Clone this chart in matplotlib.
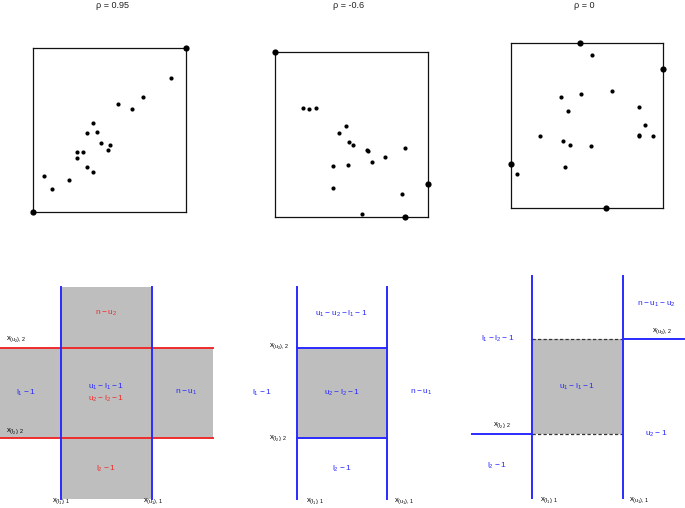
import numpy as np
import matplotlib.pyplot as plt

plt.rcParams['font.family'] = ['Liberation Sans', 'DejaVu Sans']
plt.rcParams['mathtext.default'] = 'regular'

# ---- top row: scatter samples, drawn in the unit box
titles = ['ρ = 0.95', 'ρ = -0.6', 'ρ = 0']

x1 = [0.076, 0.128, 0.235, 0.288, 0.327, 0.292, 0.355, 0.396, 0.418, 0.446,
      0.507, 0.490, 0.355, 0.394, 0.558, 0.647, 0.719, 0.904]
y1 = [0.223, 0.144, 0.198, 0.365, 0.365, 0.332, 0.484, 0.544, 0.487, 0.422,
      0.410, 0.381, 0.276, 0.245, 0.659, 0.629, 0.700, 0.816]
bx1 = [0.0, 1.0]
by1 = [0.0, 1.0]

x2 = [0.183, 0.222, 0.270, 0.464, 0.418, 0.486, 0.512, 0.606, 0.612, 0.723,
      0.854, 0.634, 0.481, 0.381, 0.381, 0.832, 0.573]
y2 = [0.664, 0.654, 0.660, 0.555, 0.510, 0.457, 0.435, 0.409, 0.401, 0.362,
      0.421, 0.336, 0.318, 0.310, 0.174, 0.142, 0.018]
bx2 = [0.0, 1.0, 0.854]
by2 = [1.0, 0.200, 0.0]

x3 = [0.533, 0.666, 0.463, 0.332, 0.376, 0.843, 0.878, 0.838, 0.838, 0.930,
      0.194, 0.345, 0.391, 0.524, 0.356, 0.044]
y3 = [0.931, 0.713, 0.694, 0.676, 0.589, 0.615, 0.502, 0.445, 0.435, 0.439,
      0.437, 0.409, 0.383, 0.374, 0.247, 0.206]
bx3 = [0.456, 1.0, 0.0, 0.627]
by3 = [1.0, 0.846, 0.267, 0.0]

samples = [(x1, y1, bx1, by1), (x2, y2, bx2, by2), (x3, y3, bx3, by3)]

# ---- bottom row: region diagrams (figure pixel units, y downwards)
# vertical cuts x_(l1),1 / x_(u1),1 and horizontal cuts x_(u2),2 / x_(l2),2
a_xcut = [60.7, 152.0]
a_ycut = [348.0, 438.3]
a_xspan = [0.0, 212.7]
a_yspan = [287.3, 499.3]
a_labels = ['$n - u_2$', '$l_1 - 1$', '$u_1 - l_1 - 1$', '$u_2 - l_2 - 1$',
            '$n - u_1$', '$l_2 - 1$']

b_xcut = [296.7, 387.3]
b_ycut = [348.0, 438.3]
b_yspan = [287.3, 499.3]
b_labels = ['$u_1 - u_2 - l_1 - 1$', '$l_1 - 1$', '$u_2 - l_2 - 1$',
            '$n - u_1$', '$l_2 - 1$']

c_xcut = [532.3, 623.0]
c_ycut = [339.3, 434.3]
c_yspan = [276.0, 498.3]
c_hspan_u2 = [623.0, 684.0]
c_hspan_l2 = [471.7, 532.3]
c_labels = ['$n - u_1 - u_2$', '$l_1 - l_2 - 1$', '$u_1 - l_1 - 1$',
            '$u_2 - 1$', '$l_2 - 1$']

xl1 = '$x_{(l_1),1}$'
xu1 = '$x_{(u_1),1}$'
xl2 = '$x_{(l_2),2}$'
xu2 = '$x_{(u_2),2}$'

W, H = 685, 508
blue = '#2a2aff'
red = '#f02c2c'
gray = '#bebebe'

fig = plt.figure(figsize=(W / 100, H / 100), dpi=100)

# diagram layer over the whole figure
ax = fig.add_axes([0, 0, 1, 1])
ax.set_xlim(0, W)
ax.set_ylim(H, 0)
ax.axis('off')

fs = 6
# panel a
ax.fill_between(a_xcut, a_yspan[0], a_yspan[1], color=gray, lw=0)
ax.fill_between(a_xspan, a_ycut[0], a_ycut[1], color=gray, lw=0)
for y in a_ycut:
    ax.plot(a_xspan, [y, y], color=red, lw=1.4)
for x in a_xcut:
    ax.plot([x, x], a_yspan, color=blue, lw=1.4)
ax.text(106, 313.3, a_labels[0], color=red, fontsize=fs, ha='center', va='center')
ax.text(26, 392.7, a_labels[1], color=blue, fontsize=fs, ha='center', va='center')
ax.text(106, 387.3, a_labels[2], color=blue, fontsize=fs, ha='center', va='center')
ax.text(106, 399.0, a_labels[3], color=red, fontsize=fs, ha='center', va='center')
ax.text(186.7, 392.7, a_labels[4], color=blue, fontsize=fs, ha='center', va='center')
ax.text(106, 469.3, a_labels[5], color=red, fontsize=fs, ha='center', va='center')
ax.text(6, 339, xu2, fontsize=5.5, ha='left', va='center')
ax.text(6.5, 431.3, xl2, fontsize=5.5, ha='left', va='center')
ax.text(61, 501, xl1, fontsize=5.5, ha='center', va='center')
ax.text(153, 501, xu1, fontsize=5.5, ha='center', va='center')

# panel b
ax.fill_between(b_xcut, b_ycut[0], b_ycut[1], color=gray, lw=0)
for y in b_ycut:
    ax.plot(b_xcut, [y, y], color=blue, lw=1.4)
for x in b_xcut:
    ax.plot([x, x], b_yspan, color=blue, lw=1.4)
ax.text(341.7, 314, b_labels[0], color=blue, fontsize=fs, ha='center', va='center')
ax.text(261.7, 392.7, b_labels[1], color=blue, fontsize=fs, ha='center', va='center')
ax.text(341.7, 392.7, b_labels[2], color=blue, fontsize=fs, ha='center', va='center')
ax.text(421.7, 392.7, b_labels[3], color=blue, fontsize=fs, ha='center', va='center')
ax.text(341.7, 469.3, b_labels[4], color=blue, fontsize=fs, ha='center', va='center')
ax.text(289, 346, xu2, fontsize=5.5, ha='right', va='center')
ax.text(287, 438.3, xl2, fontsize=5.5, ha='right', va='center')
ax.text(315, 501, xl1, fontsize=5.5, ha='center', va='center')
ax.text(404, 501, xu1, fontsize=5.5, ha='center', va='center')

# panel c
ax.fill_between(c_xcut, c_ycut[0], c_ycut[1], color=gray, lw=0)
for y in c_ycut:
    ax.plot(c_xcut, [y, y], color='#333333', lw=0.9, ls=(0, (2.6, 1.8)))
ax.plot(c_hspan_u2, [c_ycut[0]] * 2, color=blue, lw=1.4)
ax.plot(c_hspan_l2, [c_ycut[1]] * 2, color=blue, lw=1.4)
for x in c_xcut:
    ax.plot([x, x], c_yspan, color=blue, lw=1.4)
ax.text(656.7, 304.3, c_labels[0], color=blue, fontsize=fs, ha='center', va='center')
ax.text(497.3, 339.3, c_labels[1], color=blue, fontsize=fs, ha='center', va='center')
ax.text(577.3, 386.7, c_labels[2], color=blue, fontsize=fs, ha='center', va='center')
ax.text(656, 434.3, c_labels[3], color=blue, fontsize=fs, ha='center', va='center')
ax.text(497.3, 466, c_labels[4], color=blue, fontsize=fs, ha='center', va='center')
ax.text(662, 331, xu2, fontsize=5.5, ha='center', va='center')
ax.text(502.5, 425.3, xl2, fontsize=5.5, ha='center', va='center')
ax.text(548.6, 500, xl1, fontsize=5.5, ha='center', va='center')
ax.text(639, 500, xu1, fontsize=5.5, ha='center', va='center')

# scatter boxes: left, top, right, bottom in pixels
boxes = [(32.7, 48.0, 185.7, 212.3),
         (274.7, 52.3, 427.7, 217.0),
         (510.7, 43.3, 663.3, 208.0)]
title_x = [113, 349, 584]

for (xs, ys, bxs, bys), (l, t, r, b), ttl, tx in zip(samples, boxes, titles, title_x):
    sa = fig.add_axes([l / W, 1 - b / H, (r - l) / W, (b - t) / H])
    sa.scatter(xs, ys, s=9, color='black', lw=0)
    sa.scatter(bxs, bys, s=20, color='black', lw=0, clip_on=False, zorder=3)
    sa.set_xlim(0, 1)
    sa.set_ylim(0, 1)
    sa.set_xticks([])
    sa.set_yticks([])
    for sp in sa.spines.values():
        sp.set_linewidth(0.9)
        sp.set_color('#111111')
    fig.text(tx / W, 1 - 6 / H, ttl, fontsize=6.5, ha='center', va='center',
             color='#222222')

fig.savefig('out.png', dpi=100)
